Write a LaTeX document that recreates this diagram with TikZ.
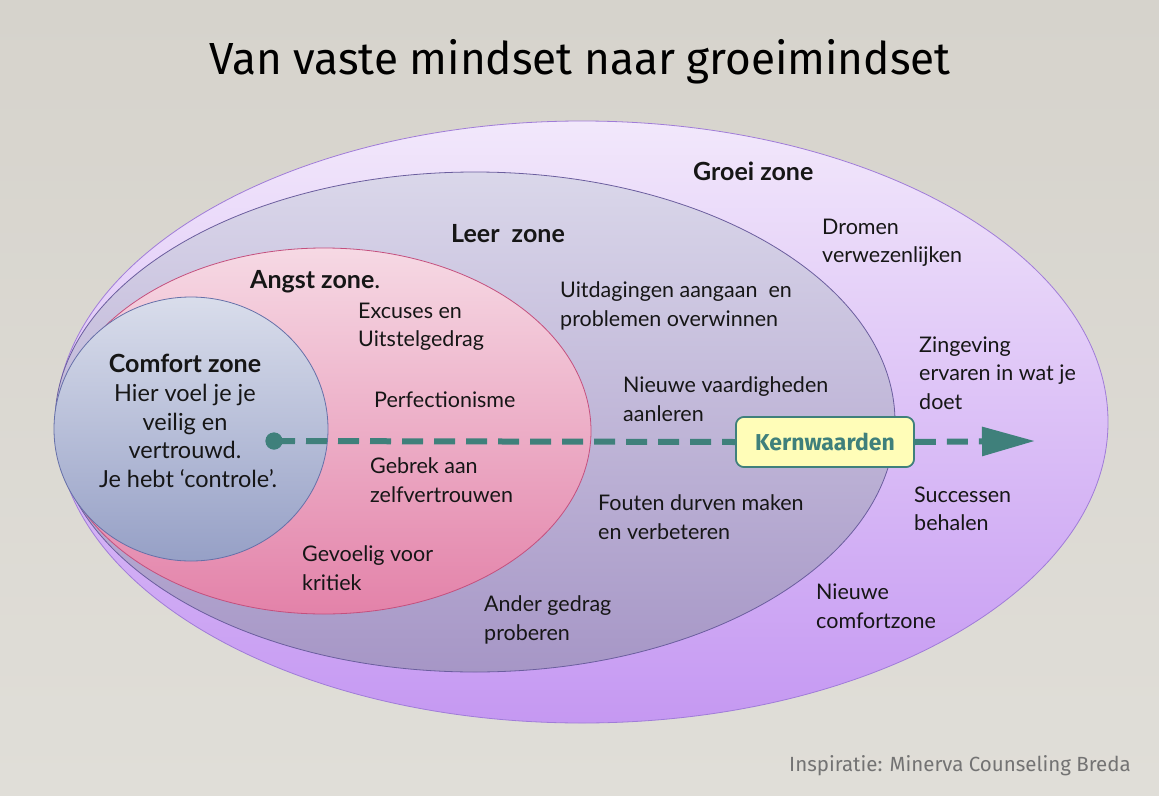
\documentclass[tikz,border=0pt]{standalone}
\usepackage{fontspec}
\setmainfont{Lato}
\newfontfamily\comic{Fira Sans}
\usetikzlibrary{shapes.geometric,arrows.meta}
\definecolor{bgtop}{HTML}{D6D3CC}
\definecolor{bgbot}{HTML}{E0DED8}
\definecolor{groeitop}{HTML}{F2E8FB}
\definecolor{groeibot}{HTML}{C598F2}
\definecolor{groeiline}{HTML}{A07CD8}
\definecolor{leertop}{HTML}{DAD7EA}
\definecolor{leerbot}{HTML}{A696C6}
\definecolor{leerline}{HTML}{6B5E9E}
\definecolor{angsttop}{HTML}{F6D9E4}
\definecolor{angstbot}{HTML}{E382A9}
\definecolor{angstline}{HTML}{C4507E}
\definecolor{comftop}{HTML}{D9DDEB}
\definecolor{comfbot}{HTML}{96A0C6}
\definecolor{comfline}{HTML}{6670A8}
\definecolor{teal}{HTML}{3F807B}
\definecolor{kernfill}{HTML}{FFFDB8}
\definecolor{txt}{HTML}{161616}
\tikzset{
  zone/.style={ellipse, inner sep=0pt, line width=0.8pt},
  body/.style={font=\fontsize{21.5}{28.5}\selectfont, text=txt, align=left, anchor=west, inner sep=0pt},
  zonelabel/.style={font=\fontsize{25}{28.5}\selectfont\bfseries, text=txt, anchor=west, inner sep=0pt},
  kernbox/.style={draw=teal, line width=1.6pt, fill=kernfill, rounded corners=8pt, minimum width=178pt, minimum height=50pt, inner sep=0pt, font=\comic\bfseries\fontsize{23}{23}\selectfont, text=teal},
  arrowline/.style={teal, line width=6pt, dash pattern=on 21pt off 11pt},
}
\begin{document}
\begin{tikzpicture}[x=1pt,y=-1pt]
\useasboundingbox (0,0) rectangle (1159,795);
\shade[top color=bgtop,bottom color=bgbot] (0,0) rectangle (1159,795);

% title
\node[font=\comic\fontsize{45}{45}\selectfont, text=black, inner sep=0pt] (title) at (580,62) {\scalebox{0.98}[1]{Van vaste mindset naar groeimindset}};

% zones
\node[zone, minimum width=1052pt, minimum height=602pt, top color=groeitop, bottom color=groeibot, draw=groeiline] (groei) at (582,422) {};
\node[zone, minimum width=840pt, minimum height=500pt, top color=leertop, bottom color=leerbot, draw=leerline] (leer) at (475,422) {};
\node[zone, minimum width=534pt, minimum height=366pt, top color=angsttop, bottom color=angstbot, draw=angstline] (angst) at (324,431) {};
\node[zone, minimum width=274pt, minimum height=264pt, top color=comftop, bottom color=comfbot, draw=comfline] (comfort) at (191,429) {};

% zone labels
\node[zonelabel] (lgroei) at (693,171) {Groei zone};
\node[zonelabel] (lleer) at (451,234) {Leer\ \ zone};
\node[zonelabel] (langst) at (250,282) {Angst zone\textmd{.}};
\node[font=\fontsize{23.5}{28.7}\selectfont, text=txt, align=center, inner sep=0pt] (lcomf) at (185,421) {{\fontsize{25}{28.7}\selectfont\bfseries Comfort zone}\\Hier voel je je\\veilig en\\vertrouwd.\\\ Je hebt ‘controle’.};

% angst texts
\node[body] (t1) at (358,327) {Excuses en\\Uitstelgedrag};
\node[body] (t2) at (374,400) {Perfectionisme};
\node[body] (t3) at (370,480) {Gebrek aan\\zelfvertrouwen};
\node[body] (t4) at (302,568) {Gevoelig voor\\kritiek};

% leer texts
\node[body] (t5) at (560,306) {Uitdagingen aangaan\ \ en\\problemen overwinnen};
\node[body] (t6) at (623,399) {Nieuwe vaardigheden\\aanleren};
\node[body] (t7) at (598,517) {Fouten durven maken\\en verbeteren};
\node[body] (t8) at (484,620) {Ander gedrag\\proberen};

% groei texts
\node[body] (t9) at (822,243) {Dromen\\verwezenlijken};
\node[body] (t10) at (919,373) {Zingeving\\ervaren in wat je\\doet};
\node[body] (t11) at (914,509) {Successen\\behalen};
\node[body] (t12) at (816,606) {Nieuwe\\comfortzone};

% arrow
\node[circle, fill=teal, inner sep=0pt, minimum size=17pt] (dot) at (274,441) {};
\node[kernbox] (kern) at (825,442) {Kernwaarden};
\coordinate (tip) at (1035,441);
\draw[arrowline] (dot.center) -- (kern.west);
\draw[arrowline, -{Triangle[length=53pt,width=28pt]}] (kern.east) -- (tip);
\node[circle, fill=teal, inner sep=0pt, minimum size=17pt] at (dot) {};
\node[kernbox] at (kern) {Kernwaarden};

% credit
\node[font=\comic\fontsize{20.5}{20.5}\selectfont, text=black!55, anchor=east, inner sep=0pt] (credit) at (1131,766) {Inspiratie: Minerva Counseling Breda};
\end{tikzpicture}
\end{document}
